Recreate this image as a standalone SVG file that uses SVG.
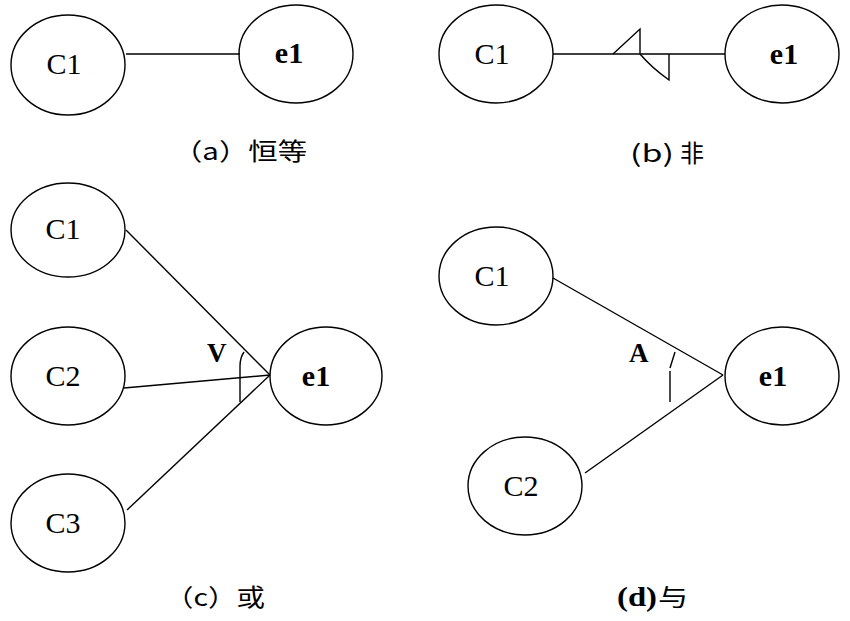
<svg xmlns="http://www.w3.org/2000/svg" width="850" height="621" viewBox="0 0 850 621">
<style>
.n{fill:none;stroke:#000;stroke-width:1.4}
.c{fill:none;stroke:#000;stroke-width:1.4}
.lbl{font-family:"Liberation Serif","Times New Roman",serif;font-size:30px;text-anchor:middle;fill:#000}
.e{font-weight:bold}
.sym{font-family:"Liberation Serif",serif;font-size:27px;font-weight:bold;fill:#000}
.cap{font-family:"Noto Sans CJK SC",sans-serif;font-size:24px;fill:#000}
</style>
<rect width="850" height="621" fill="#fff"/>
<!-- panel a -->
<g id="a-C1"><ellipse class="n" cx="68" cy="65" rx="57" ry="50"/><text class="lbl" x="64" y="74">C1</text></g>
<g id="a-e1"><ellipse class="n" cx="296" cy="54" rx="57" ry="49"/><text class="lbl e" x="289" y="63">e1</text></g>
<!-- panel b -->
<g id="b-C1"><ellipse class="n" cx="496" cy="54" rx="57" ry="49"/><text class="lbl" x="492" y="64">C1</text></g>
<g id="b-e1"><ellipse class="n" cx="782" cy="54" rx="57" ry="49"/><text class="lbl e" x="784" y="64">e1</text></g>
<!-- panel c -->
<g id="c-C1"><ellipse class="n" cx="68" cy="230" rx="57" ry="47"/><text class="lbl" x="63" y="239">C1</text></g>
<g id="c-C2"><ellipse class="n" cx="68" cy="376" rx="57" ry="49"/><text class="lbl" x="63" y="386">C2</text></g>
<g id="c-C3"><ellipse class="n" cx="68" cy="523" rx="57" ry="49"/><text class="lbl" x="63" y="533">C3</text></g>
<g id="c-e1"><ellipse class="n" cx="326" cy="376" rx="56" ry="49"/><text class="lbl e" x="316" y="386">e1</text></g>
<!-- panel d -->
<g id="d-C1"><ellipse class="n" cx="496" cy="276" rx="57" ry="49"/><text class="lbl" x="492" y="286">C1</text></g>
<g id="d-C2"><ellipse class="n" cx="525" cy="486" rx="57" ry="49"/><text class="lbl" x="521" y="496">C2</text></g>
<g id="d-e1"><ellipse class="n" cx="782" cy="376" rx="57" ry="49"/><text class="lbl e" x="773" y="386">e1</text></g>
<g id="connectors">
<line class="c" x1="126" y1="54" x2="240" y2="54"/>
<line class="c" x1="553" y1="54" x2="725" y2="54"/>
<path class="c" d="M613 54 L640 29 L640 54 M640 54 Q652 68 669 80 L669 54"/>
<line class="c" x1="126" y1="230" x2="270" y2="375"/>
<line class="c" x1="124" y1="388" x2="270" y2="375"/>
<line class="c" x1="127" y1="510" x2="270" y2="375"/>
<path class="c" d="M244 352 Q240 358 240 366 L240 402"/>
<line class="c" x1="553" y1="278" x2="723" y2="375"/>
<line class="c" x1="585" y1="473" x2="723" y2="375"/>
<path class="c" d="M675 352 L670 368 M670 371 L670 402"/>
</g>
<text class="sym" x="207" y="362">V</text>
<text class="sym" x="629" y="362">A</text>
<text class="cap" x="173" y="160" textLength="134" lengthAdjust="spacingAndGlyphs">（a）恒等</text>
<text class="cap" x="630" y="162"><tspan textLength="44" lengthAdjust="spacingAndGlyphs">(b)</tspan><tspan x="680">非</tspan></text>
<text class="cap" x="165" y="606" textLength="100" lengthAdjust="spacingAndGlyphs">（c）或</text>
<text x="617" y="606" font-family="Liberation Serif,serif" font-size="27" font-weight="bold" textLength="40" lengthAdjust="spacingAndGlyphs">(d)</text>
<text class="cap" x="658" y="606" textLength="30" lengthAdjust="spacingAndGlyphs">与</text>
</svg>
